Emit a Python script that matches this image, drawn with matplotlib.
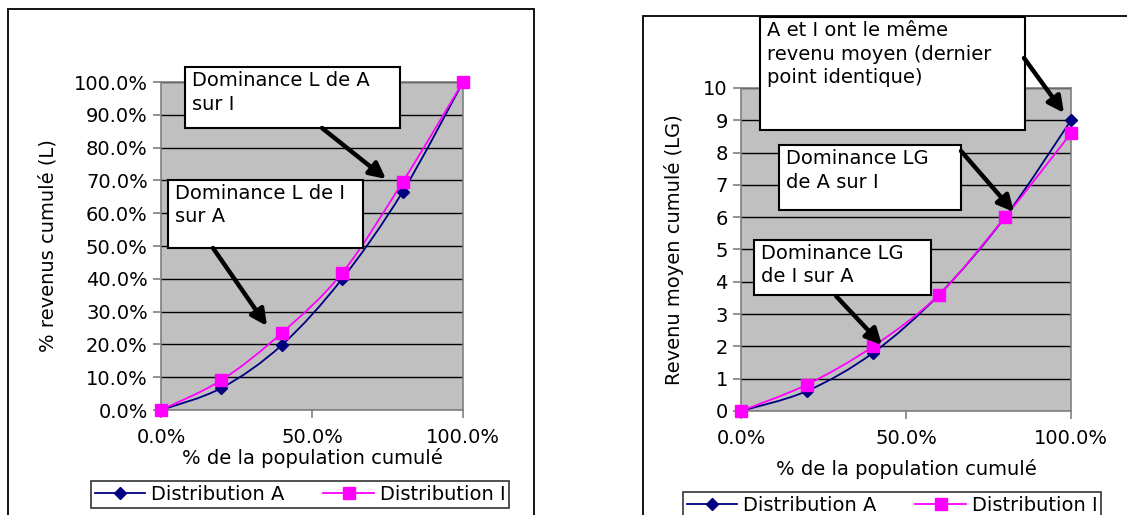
import matplotlib
matplotlib.use("Agg")
import matplotlib.pyplot as plt
from matplotlib.path import Path
from matplotlib.patches import PathPatch, Rectangle, FancyArrowPatch
from matplotlib.lines import Line2D
from matplotlib.ticker import FuncFormatter

# data
population = [0.0, 0.2, 0.4, 0.6, 0.8, 1.0]
lorenz_A = [0.0, 0.067, 0.198, 0.40, 0.665, 1.0]
lorenz_I = [0.0, 0.091, 0.235, 0.418, 0.695, 1.0]
gen_A = [0.0, 0.62, 1.8, 3.6, 6.0, 9.0]
gen_I = [0.0, 0.82, 2.0, 3.6, 6.0, 8.6]
series_names = ["Distribution A", "Distribution I"]
left_notes = ["Dominance L de A\nsur I", "Dominance L de I\nsur A"]
right_notes = ["A et I ont le même\nrevenu moyen (dernier\npoint identique)",
               "Dominance LG\nde A sur I", "Dominance LG\nde I sur A"]

W, H = 1127, 515
NAVY = "#000080"
PINK = "#FF00FF"
GRAY = "#808080"
FS = 14

plt.rcParams['font.family'] = ['DejaVu Sans']
fig = plt.figure(figsize=(W / 100, H / 100), dpi=100)


def fx(px):
    return px / W


def fy(py):
    return 1 - py / H


def smooth(ax, xs, ys, color):
    # Excel-like smoothed line: bezier segments through the data points
    pts = list(zip(xs, ys))
    n = len(pts)
    verts = [pts[0]]
    codes = [Path.MOVETO]
    for i in range(n - 1):
        p0 = pts[max(i - 1, 0)]
        p1 = pts[i]
        p2 = pts[i + 1]
        p3 = pts[min(i + 2, n - 1)]
        c1 = (p1[0] + (p2[0] - p0[0]) / 6, p1[1] + (p2[1] - p0[1]) / 6)
        c2 = (p2[0] - (p3[0] - p1[0]) / 6, p2[1] - (p3[1] - p1[1]) / 6)
        verts += [c1, c2, p2]
        codes += [Path.CURVE4] * 3
    ax.add_patch(PathPatch(Path(verts, codes), facecolor="none", edgecolor=color, lw=1.3, zorder=3))


def setup(ax, ymax, ystep, yfmt):
    ax.set_facecolor("#C0C0C0")
    ax.set_xlim(0, 1)
    ax.set_ylim(0, ymax)
    ax.set_xticks([0, 0.5, 1.0])
    ax.xaxis.set_major_formatter(FuncFormatter(lambda v, p: "%.1f%%" % (v * 100)))
    yt = [i * ystep for i in range(int(round(ymax / ystep)) + 1)]
    ax.set_yticks(yt)
    ax.yaxis.set_major_formatter(FuncFormatter(yfmt))
    ax.grid(axis="y", color="black", lw=1)
    ax.set_axisbelow(True)
    for s in ax.spines.values():
        s.set_color(GRAY)
        s.set_linewidth(1.2)
    ax.tick_params(colors=GRAY, labelcolor="black", labelsize=FS, length=6, width=1.2)
    ax.tick_params(axis="x", pad=7)


def draw_series(ax, a, b):
    smooth(ax, population, a, NAVY)
    smooth(ax, population, b, PINK)
    ax.plot(population, a, ls="none", marker="D", ms=6, color=NAVY, zorder=4, clip_on=False)
    ax.plot(population, b, ls="none", marker="s", ms=9, color=PINK, zorder=5, clip_on=False)


def note(box, text, start, end):
    x0, y0, x1, y1 = box
    fig.patches.append(Rectangle((fx(x0), fy(y1)), fx(x1 - x0), (y1 - y0) / H,
                                 transform=fig.transFigure, facecolor="white",
                                 edgecolor="black", lw=1.5, zorder=10))
    fig.text(fx(x0 + 7), fy(y0 + 4), text, ha="left", va="top", fontsize=FS,
             linespacing=1.3, zorder=11)
    fig.patches.append(FancyArrowPatch((fx(start[0]), fy(start[1])), (fx(end[0]), fy(end[1])),
                                       transform=fig.transFigure, arrowstyle="-|>",
                                       mutation_scale=24, lw=3.2, color="black",
                                       shrinkA=0, shrinkB=0, zorder=12))


def legend(cx, top):
    handles = [Line2D([], [], color=NAVY, marker="D", ms=6, lw=1.3),
               Line2D([], [], color=PINK, marker="s", ms=8, lw=1.3)]
    lg = fig.legend(handles, series_names, loc="upper center", bbox_to_anchor=(fx(cx), fy(top)),
                    ncol=2, fontsize=FS, frameon=True, fancybox=False, edgecolor="black",
                    handlelength=2.6, columnspacing=2.0, handletextpad=0.3,
                    borderpad=0.2, borderaxespad=0)
    lg.get_frame().set_linewidth(1.2)


# chart area borders
fig.patches.append(Rectangle((fx(8), fy(530)), fx(526), 521 / H, transform=fig.transFigure,
                             facecolor="none", edgecolor="black", lw=1.3))
fig.patches.append(Rectangle((fx(643), fy(530)), fx(520), 514 / H, transform=fig.transFigure,
                             facecolor="none", edgecolor="black", lw=1.3))

# left chart: Lorenz curves
ax1 = fig.add_axes([fx(161), fy(410), fx(302), (410 - 82) / H])
setup(ax1, 1.0, 0.1, lambda v, p: "%.1f%%" % (v * 100))
draw_series(ax1, lorenz_A, lorenz_I)
ax1.set_xlabel("% de la population cumulé", fontsize=FS, labelpad=1)
ax1.set_ylabel("% revenus cumulé (L)", fontsize=FS, labelpad=12)

# right chart: generalised Lorenz curves
ax2 = fig.add_axes([fx(741), fy(411), fx(330), (411 - 88) / H])
setup(ax2, 10, 1, lambda v, p: "%d" % v)
draw_series(ax2, gen_A, gen_I)
ax2.set_xlabel("% de la population cumulé", fontsize=FS, labelpad=8)
ax2.set_ylabel("Revenu moyen cumulé (LG)", fontsize=FS, labelpad=14)

note((185, 67, 400, 128), left_notes[0], (322, 128), (386, 179))
note((168, 180, 363, 248), left_notes[1], (213, 248), (267, 326))
note((760, 17, 1025, 130), right_notes[0], (1024, 58), (1064, 113))
note((779, 145, 961, 210), right_notes[1], (961, 151), (1014, 212))
note((754, 240, 931, 295), right_notes[2], (836, 296), (882, 345))

legend(300, 481)
legend(892, 492)

fig.savefig("out.png", dpi=100)
